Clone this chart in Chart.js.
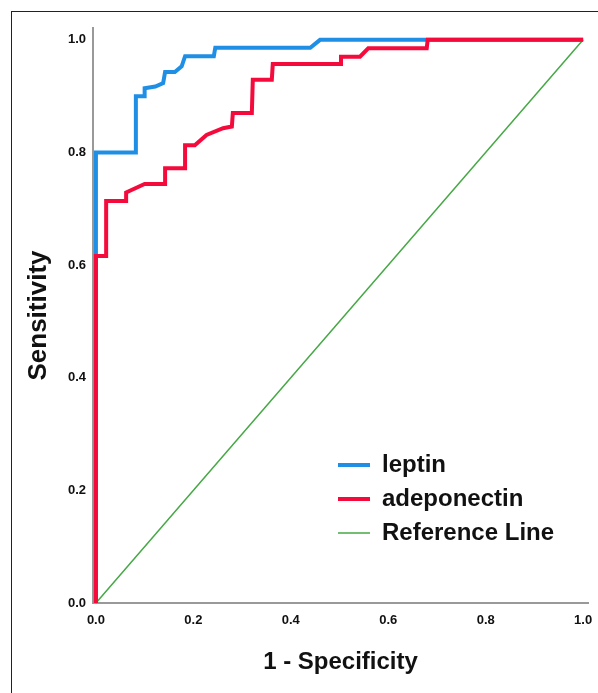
<!DOCTYPE html>
<html>
<head>
<meta charset="utf-8">
<script src="https://cdn.jsdelivr.net/npm/chart.js@4.4.0/dist/chart.umd.min.js"></script>
<style>
  html, body { margin: 0; padding: 0; background: #fff; }
  #wrap { position: relative; width: 598px; height: 693px; }
  #frame { position: absolute; left: 11px; top: 11px; right: 0; bottom: 0; border-left: 1px solid #222; border-top: 1px solid #222; pointer-events: none; }
</style>
</head>
<body>
<div id="wrap">
  <canvas id="rocChart" width="598" height="693"></canvas>
  <div id="frame"></div>
</div>
<script>
// ROC curves: 1 - specificity (x) vs sensitivity (y)
const leptinFpr = [0, 0, 0.082, 0.082, 0.100, 0.100, 0.122, 0.138, 0.142, 0.162, 0.176, 0.183, 0.242, 0.245, 0.440, 0.460, 1.0];
const leptinTpr = [0, 0.80, 0.80, 0.90, 0.90, 0.914, 0.917, 0.923, 0.943, 0.943, 0.953, 0.971, 0.971, 0.986, 0.986, 1.0, 1.0];

const adipoFpr = [0, 0, 0.021, 0.021, 0.062, 0.062, 0.100, 0.142, 0.142, 0.183, 0.183, 0.203, 0.227, 0.261, 0.279, 0.281, 0.320, 0.322, 0.361, 0.363, 0.501, 0.503, 0.542, 0.559, 0.679, 0.681, 1.0];
const adipoTpr = [0, 0.616, 0.616, 0.714, 0.714, 0.729, 0.744, 0.744, 0.772, 0.772, 0.813, 0.813, 0.831, 0.843, 0.846, 0.870, 0.870, 0.929, 0.929, 0.957, 0.957, 0.970, 0.970, 0.985, 0.985, 1.0, 1.0];

const refFpr = [0, 1];
const refTpr = [0, 1];

const xTicks = [0, 0.2, 0.4, 0.6, 0.8, 1.0];
const yTicks = [0, 0.2, 0.4, 0.6, 0.8, 1.0];

const toPoints = (xs, ys) => xs.map((x, i) => ({ x: x, y: ys[i] }));

const tickFont = { family: '"Liberation Sans Narrow", "Liberation Sans", Arial, sans-serif', size: 13, weight: 'bold' };
const titleFont = { family: '"Liberation Sans", Arial, sans-serif', weight: 'bold' };

// put the legend box inside the plot, lower right
const legendSpot = {
    id: 'legendSpot',
    afterLayout(chart) {
        const lg = chart.legend;
        const w = lg.width, h = lg.height;
        lg.left = 328;
        lg.top = 443;
        lg.right = 328 + w;
        lg.bottom = 443 + h;
    }
};

const ctx = document.getElementById('rocChart').getContext('2d');
new Chart(ctx, {
    type: 'scatter',
    data: {
        datasets: [{
            label: 'leptin',
            data: toPoints(leptinFpr, leptinTpr),
            showLine: true,
            borderColor: '#1f8fe6',
            backgroundColor: '#1f8fe6',
            borderWidth: 4,
            order: 1
        }, {
            label: 'adeponectin',
            data: toPoints(adipoFpr, adipoTpr),
            showLine: true,
            borderColor: '#f50a3c',
            backgroundColor: '#f50a3c',
            borderWidth: 4,
            order: 0
        }, {
            label: 'Reference Line',
            data: toPoints(refFpr, refTpr),
            showLine: true,
            borderColor: '#45a845',
            backgroundColor: '#45a845',
            borderWidth: 1.5,
            order: 2
        }]
    },
    options: {
        responsive: false,
        animation: false,
        layout: { padding: { top: 28, right: 10, left: 0, bottom: 0 } },
        elements: { point: { radius: 0, hoverRadius: 0 }, line: { tension: 0 } },
        clip: false,
        plugins: {
            tooltip: { enabled: false },
            legend: {
                position: 'chartArea',
                align: 'start',
                labels: {
                    usePointStyle: true,
                    pointStyle: 'line',
                    pointStyleWidth: 32,
                    padding: 10,
                    color: '#111',
                    font: { family: '"Liberation Sans", Arial, sans-serif', size: 24, weight: 'bold' },
                    sort: (a, b) => a.datasetIndex - b.datasetIndex
                }
            }
        },
        scales: {
            x: {
                type: 'linear',
                min: -0.006,
                max: 1.01,
                afterBuildTicks: s => { s.ticks = xTicks.map(v => ({ value: v })); },
                afterFit: s => { s.height = 90; s.paddingLeft = 0; s.paddingRight = 0; },
                grid: { display: false, drawTicks: false },
                border: { color: '#999', width: 2 },
                ticks: {
                    padding: 10,
                    color: '#111',
                    font: tickFont,
                    maxRotation: 0,
                    callback: v => v.toFixed(1)
                },
                title: {
                    display: true,
                    text: '1 - Specificity',
                    color: '#111',
                    font: { ...titleFont, size: 24 },
                    padding: { top: 0, bottom: 16 }
                }
            },
            y: {
                type: 'linear',
                min: 0,
                max: 1.021,
                afterBuildTicks: s => { s.ticks = yTicks.map(v => ({ value: v })); },
                afterFit: s => { s.width = 93; s.paddingTop = 0; s.paddingBottom = 0; },
                grid: { display: false, drawTicks: false },
                border: { color: '#999', width: 2 },
                ticks: {
                    padding: 7,
                    color: '#111',
                    font: tickFont,
                    callback: v => v.toFixed(1)
                },
                title: {
                    display: true,
                    text: 'Sensitivity',
                    color: '#111',
                    font: { ...titleFont, size: 26 },
                    padding: { top: 23, bottom: 0 }
                }
            }
        }
    },
    plugins: [legendSpot]
});
</script>
</body>
</html>
